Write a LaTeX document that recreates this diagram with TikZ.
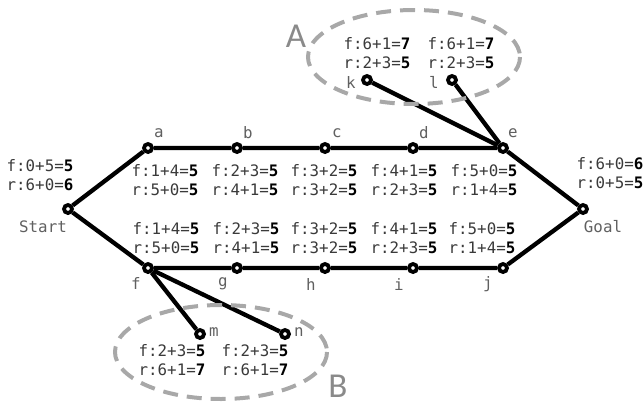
\documentclass[tikz,border=0pt]{standalone}
\usepackage{fontspec}
\setmainfont{DejaVu Sans}
\newfontfamily\cmono{DejaVu Sans Mono}
\newfontfamily\bigsans{Carlito}
\usetikzlibrary{backgrounds}
\definecolor{txtgray}{HTML}{3A3A3A}
\definecolor{lblgray}{HTML}{606060}
\definecolor{ringgray}{HTML}{A8A8A8}
\definecolor{letgray}{HTML}{8A8A8A}
\newcommand{\fr}[4]{#1\textbf{\color{black}#2}\\#3\textbf{\color{black}#4}}
\tikzset{
  vert/.style={circle, draw=black, fill=white, line width=3.8pt, minimum size=8pt, inner sep=0pt},
  cost/.style={align=center, inner sep=0pt, text=txtgray, font=\cmono\fontsize{15.8}{19}\selectfont},
  lbl/.style={inner sep=0pt, text=lblgray, font=\cmono\fontsize{15.8}{19}\selectfont},
  edge/.style={line width=4.3pt, draw=black},
  ring/.style={draw=ringgray, line width=4pt, dash pattern=on 15pt off 9pt},
  bigletter/.style={inner sep=0pt, anchor=base, text=letgray, font=\bigsans\fontsize{35}{35}\selectfont}
}
\begin{document}
\begin{tikzpicture}[x=1pt,y=-1pt]
\useasboundingbox (0,0) rectangle (643,405);
% dashed rings around the two frontier groups
\draw[ring] (414,57) ellipse [x radius=106, y radius=47];
\draw[ring] (221,352) ellipse [x radius=106, y radius=47];
\node[bigletter] (letA) at (296,47) {A};
\node[bigletter] (letB) at (338,397) {B};

% vertices
\node[vert] (start) at (68,209) {};
\node[vert] (a) at (148,148) {};
\node[vert] (b) at (237,148) {};
\node[vert] (c) at (325,148) {};
\node[vert] (d) at (413,148) {};
\node[vert] (e) at (503,148) {};
\node[vert] (goal) at (583,209) {};
\node[vert] (f) at (148,268) {};
\node[vert] (g) at (237,268) {};
\node[vert] (h) at (325,268) {};
\node[vert] (i) at (413,268) {};
\node[vert] (j) at (503,268) {};
\node[vert] (k) at (367,80) {};
\node[vert] (l) at (452,80) {};
\node[vert] (m) at (200,334) {};
\node[vert] (n) at (285,334) {};

% edges behind the vertices
\begin{scope}[on background layer]
\draw[edge] (start) -- (a) -- (b) -- (c) -- (d) -- (e) -- (goal);
\draw[edge] (start) -- (f) -- (g) -- (h) -- (i) -- (j) -- (goal);
\draw[edge] (e) -- (k);
\draw[edge] (e) -- (l);
\draw[edge] (f) -- (m);
\draw[edge] (f) -- (n);
\end{scope}

% vertex labels
\node[lbl] (ls) at (43,227) {Start};
\node[lbl] (lg) at (603,227) {Goal};
\node[lbl] (la) at (159,133) {a};
\node[lbl] (lb) at (248,133) {b};
\node[lbl] (lc) at (337,133) {c};
\node[lbl] (ld) at (424,133) {d};
\node[lbl] (le) at (513,133) {e};
\node[lbl] (lf) at (136,283) {f};
\node[lbl] (lgg) at (223,284) {g};
\node[lbl] (lh) at (311,284) {h};
\node[lbl] (li) at (399,284) {i};
\node[lbl] (lj) at (488,284) {j};
\node[lbl] (lk) at (351,82) {k};
\node[lbl] (ll) at (434,82) {l};
\node[lbl] (lm) at (214,332) {m};
\node[lbl] (ln) at (299,332) {n};

% cost annotations
\node[cost] (cs) at (40,175) {\fr{f:0+5=}{5}{r:6+0=}{6}};
\node[cost] (cg) at (610,173) {\fr{f:6+0=}{6}{r:0+5=}{5}};
\node[cost] (ca) at (165,180) {\fr{f:1+4=}{5}{r:5+0=}{5}};
\node[cost] (cb) at (245,180) {\fr{f:2+3=}{5}{r:4+1=}{5}};
\node[cost] (cc) at (324,180) {\fr{f:3+2=}{5}{r:3+2=}{5}};
\node[cost] (cd) at (404,180) {\fr{f:4+1=}{5}{r:2+3=}{5}};
\node[cost] (ce) at (484,180) {\fr{f:5+0=}{5}{r:1+4=}{5}};
\node[cost] (cf) at (166,238) {\fr{f:1+4=}{5}{r:5+0=}{5}};
\node[cost] (cgg) at (246,238) {\fr{f:2+3=}{5}{r:4+1=}{5}};
\node[cost] (ch) at (324,238) {\fr{f:3+2=}{5}{r:3+2=}{5}};
\node[cost] (ci) at (404,238) {\fr{f:4+1=}{5}{r:2+3=}{5}};
\node[cost] (cj) at (482,238) {\fr{f:5+0=}{5}{r:1+4=}{5}};
\node[cost] (ck) at (377,53) {\fr{f:6+1=}{7}{r:2+3=}{5}};
\node[cost] (cl) at (461,53) {\fr{f:6+1=}{7}{r:2+3=}{5}};
\node[cost] (cm) at (172,360) {\fr{f:2+3=}{5}{r:6+1=}{7}};
\node[cost] (cn) at (255,360) {\fr{f:2+3=}{5}{r:6+1=}{7}};
\end{tikzpicture}
\end{document}
